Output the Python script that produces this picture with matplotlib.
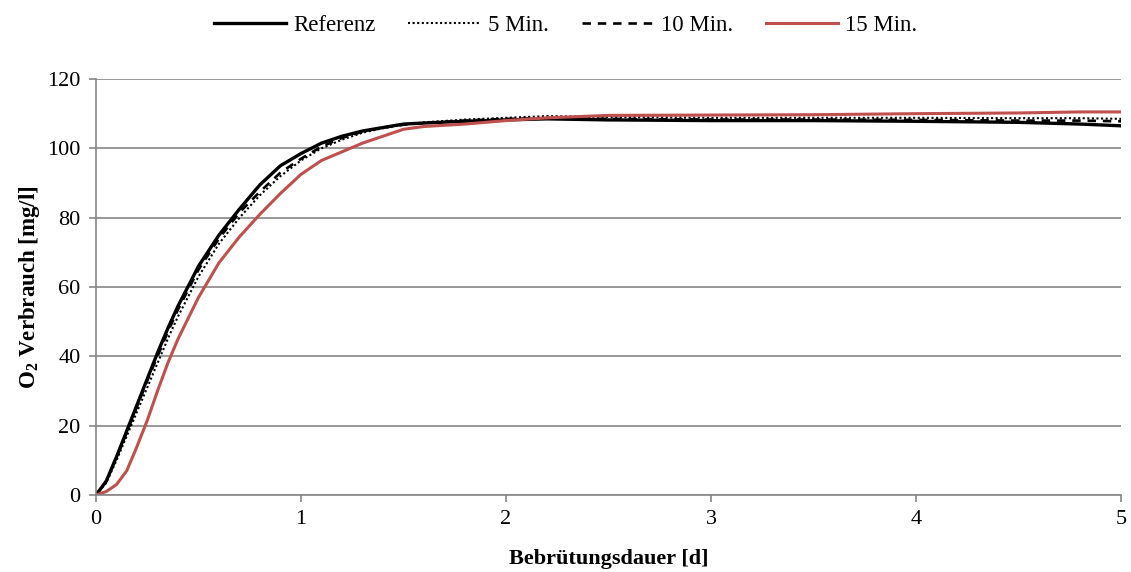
import matplotlib
matplotlib.use("Agg")
import matplotlib.pyplot as plt

plt.rcParams['font.family'] = ['Liberation Serif', 'DejaVu Serif']
plt.rcParams['mathtext.fontset'] = 'custom'
plt.rcParams['mathtext.rm'] = 'Liberation Serif:bold'
plt.rcParams['mathtext.bf'] = 'Liberation Serif:bold'

t = [0, 0.05, 0.1, 0.15, 0.2, 0.25, 0.3, 0.35, 0.4, 0.5, 0.6, 0.7, 0.8, 0.9,
     1.0, 1.1, 1.2, 1.3, 1.4, 1.5, 1.6, 1.8, 2.0, 2.2, 2.5, 3.0, 3.5, 4.0,
     4.5, 4.8, 5.0]
referenz = [0, 4, 11, 18.5, 26, 33.5, 41, 48, 54.5, 66, 75, 82.5, 89.5, 95,
            98.5, 101.5, 103.5, 105, 106, 107, 107.3, 107.8, 108.2, 108.5, 108.2,
            108, 108, 107.8, 107.5, 107, 106.5]
min5 = [0, 3.5, 10, 17, 24, 31, 38, 45, 51.5, 63, 72.5, 80, 86.5, 92,
        96.5, 100, 102.5, 104.5, 105.8, 106.8, 107.5, 108.3, 108.8, 109.3, 109,
        108.8, 108.8, 108.8, 108.7, 108.7, 108.5]
min10 = [0, 4, 11, 18, 25.5, 33, 40, 47, 53.5, 65, 74, 81.5, 87.5, 93,
         97, 100.5, 103, 104.8, 106, 106.8, 107.3, 108, 108.5, 108.7, 108.5,
         108.3, 108.3, 108.2, 108, 108, 107.8]
min15 = [0, 1, 3, 7, 14, 21.5, 30, 38, 45, 57, 67, 74.5, 81, 87,
         92.5, 96.5, 99, 101.5, 103.5, 105.5, 106.3, 107, 108, 108.8, 109.5,
         109.6, 109.7, 110, 110.2, 110.5, 110.5]

series_labels = ['Referenz', '5 Min.', '10 Min.', '15 Min.']
xticks = [0, 1, 2, 3, 4, 5]
yticks = [0, 20, 40, 60, 80, 100, 120]

fig = plt.figure(figsize=(11.31, 5.72), dpi=100)
ax = fig.add_axes([96/1131, 1-495/572, (1121-96)/1131, (495-79)/572])

gray = '#868686'
ax.plot(t, referenz, color='black', lw=2.4, label=series_labels[0])
ax.plot(t, min5, color='black', lw=1.5, linestyle=(0, (1, 1.2)), label=series_labels[1])
ax.plot(t, min10, color='black', lw=1.9, linestyle=(0, (3.2, 2.6)), label=series_labels[2])
ax.plot(t, min15, color='#C0504D', lw=2.2, label=series_labels[3])

ax.set_xlim(0, 5)
ax.set_ylim(0, 120)
ax.set_xticks(xticks)
ax.set_yticks(yticks)
ax.yaxis.grid(True, color=gray, lw=1.2)
ax.set_axisbelow(True)
for s in ['top', 'right']:
    ax.spines[s].set_visible(False)
for s in ['left', 'bottom']:
    ax.spines[s].set_color(gray)
    ax.spines[s].set_linewidth(1.2)
ax.tick_params(axis='both', direction='out', color=gray, length=5, width=1.2,
               labelsize=16, pad=6)

ax.set_xlabel('Bebrütungsdauer [d]', fontsize=16, fontweight='bold', labelpad=14)
ax.set_ylabel(r'O$_2$ Verbrauch [mg/l]', fontsize=16.5, fontweight='bold', labelpad=4)

fig.legend(loc='upper center', bbox_to_anchor=(0.5, 1.01), ncol=4, frameon=False,
           fontsize=16.5, handlelength=3.15, columnspacing=1.45, handletextpad=0.3)

fig.savefig('out.png', dpi=100)
